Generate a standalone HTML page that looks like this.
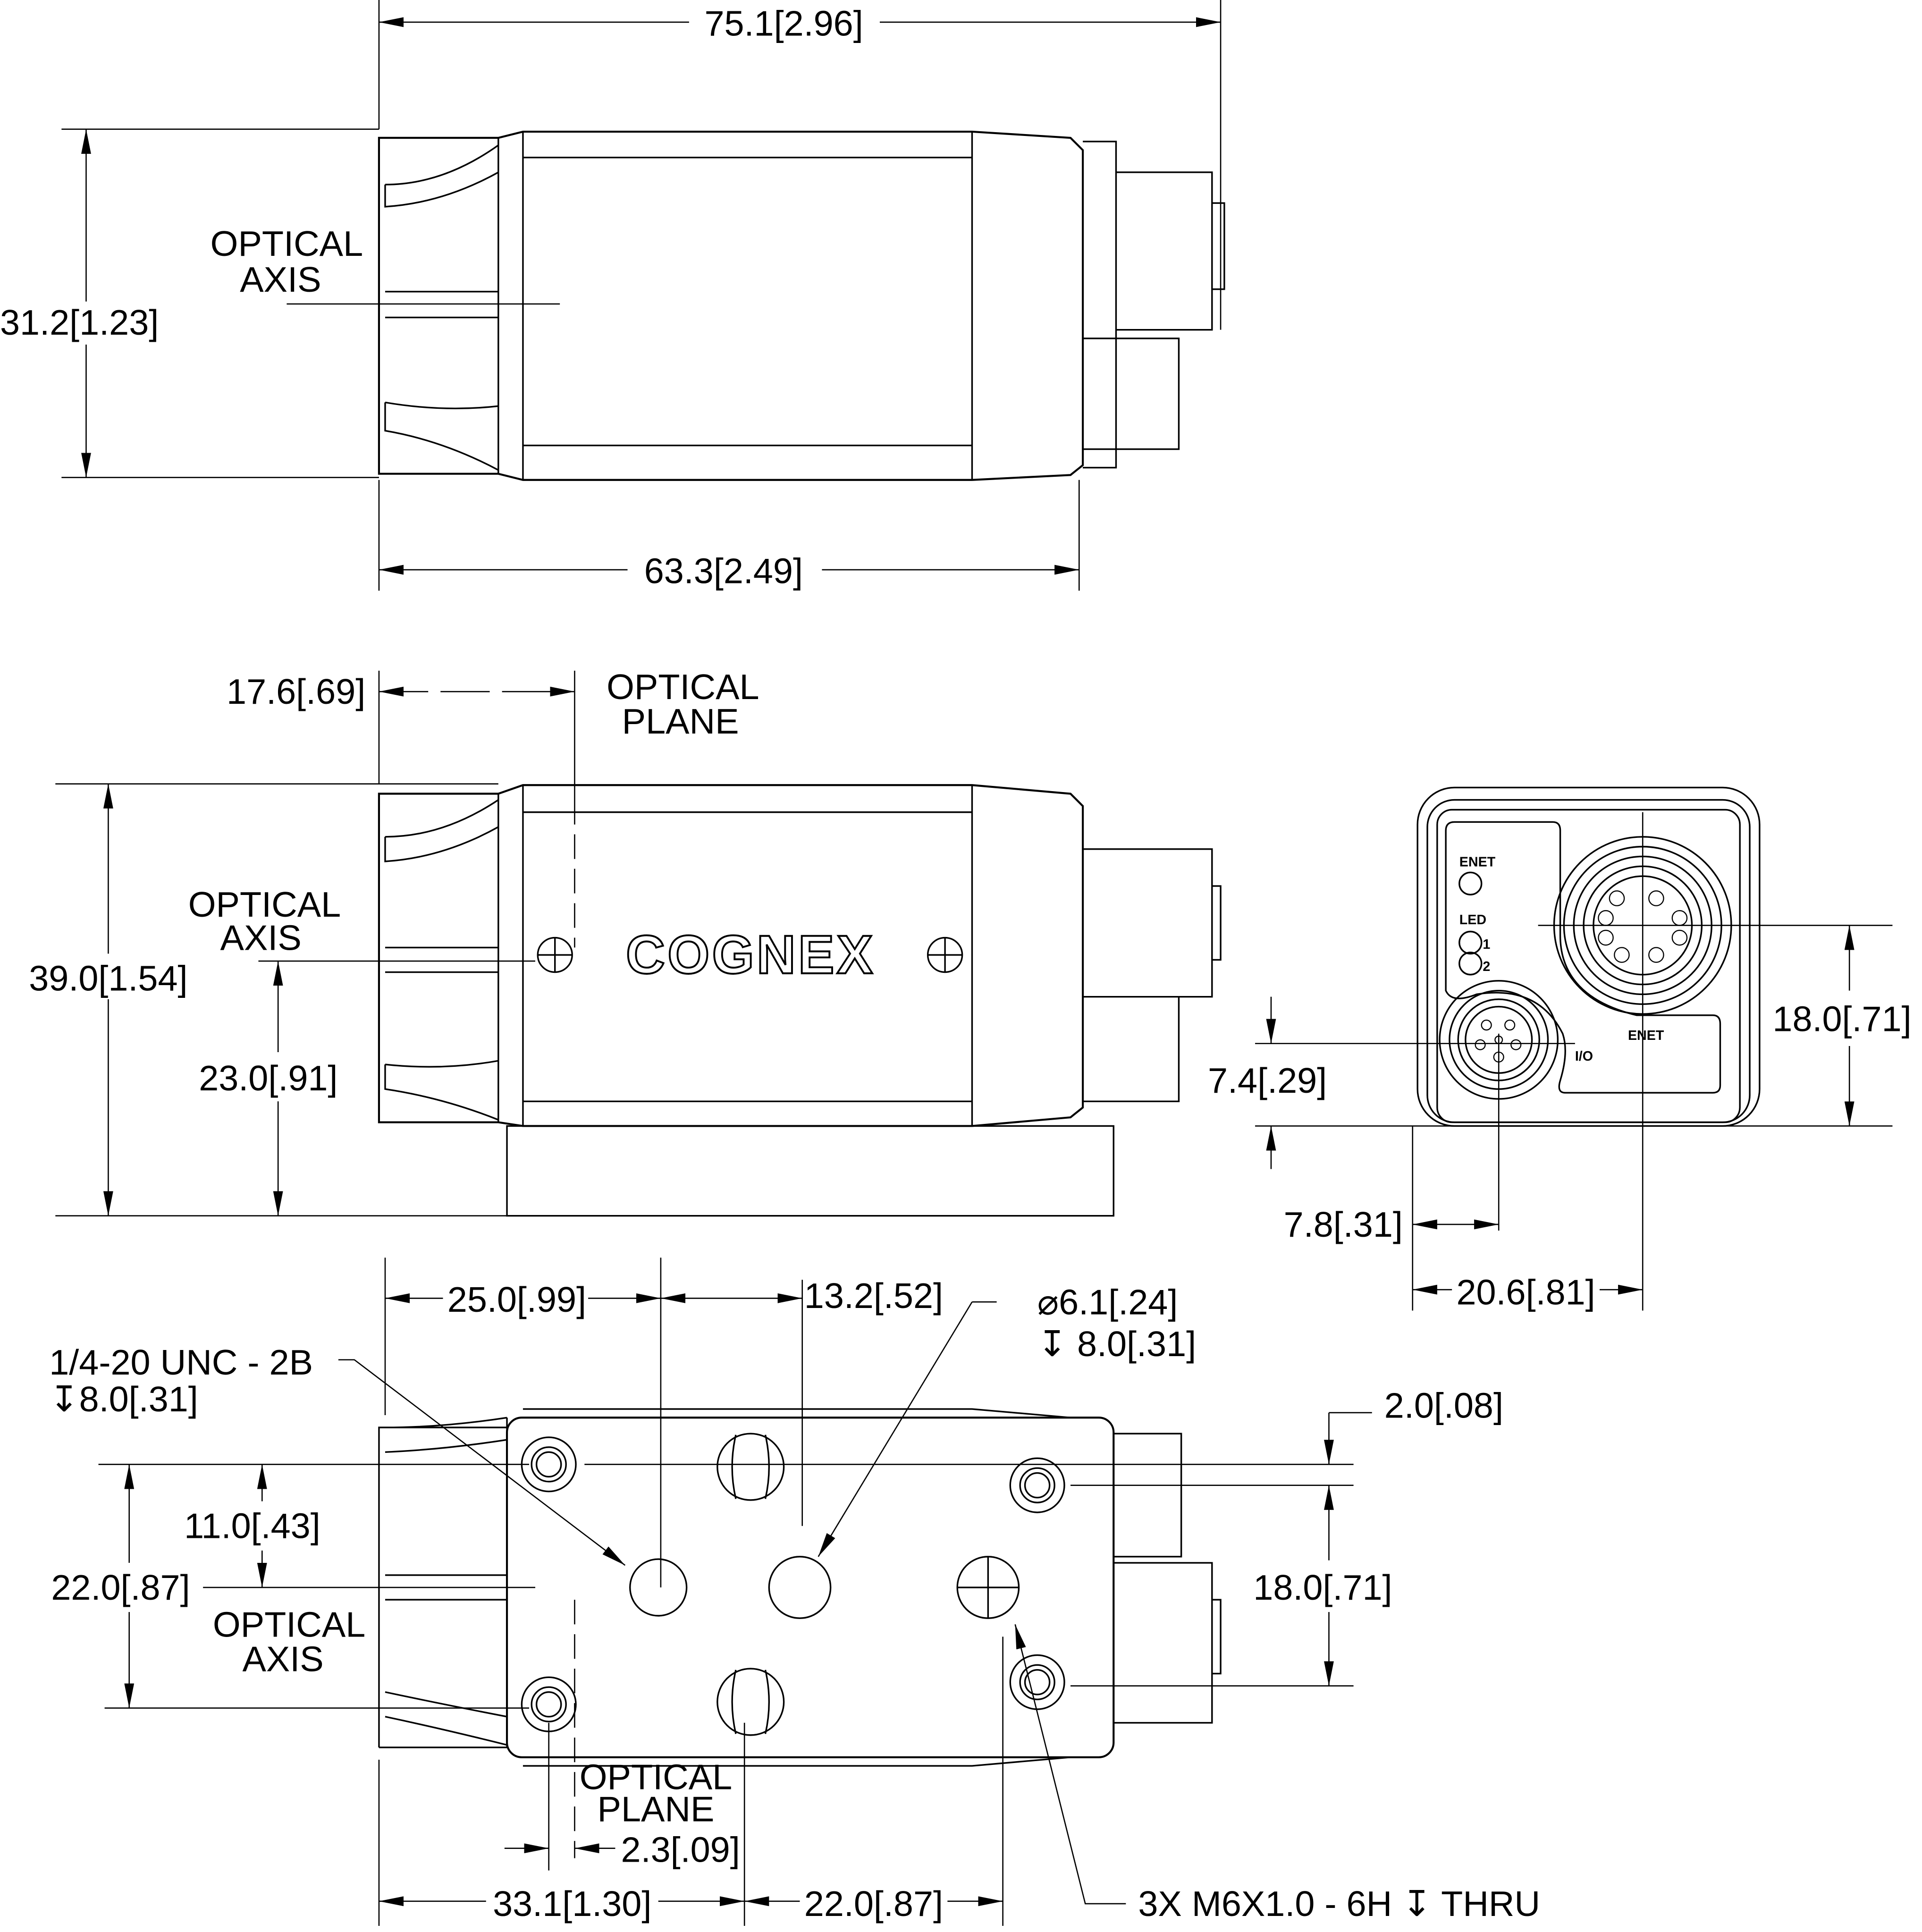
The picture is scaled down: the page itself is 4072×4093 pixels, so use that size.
<!DOCTYPE html>
<html><head><meta charset="utf-8"><style>
html,body{margin:0;padding:0;background:#fff}
svg{display:block}
text{font-family:"Liberation Sans",sans-serif;fill:#000}
</style></head><body>
<svg width="4072" height="4093" viewBox="0 0 1562 1570" preserveAspectRatio="none" xmlns="http://www.w3.org/2000/svg">
<defs>
<marker id="a" viewBox="0 0 20 8" refX="20" refY="4" markerWidth="20" markerHeight="8" markerUnits="userSpaceOnUse" orient="auto-start-reverse"><path d="M0,0 L20,4 L0,8 z" fill="#000"/></marker>
</defs>
<g fill="none" stroke="#000" stroke-width="1.3">
<path d="M308,0 V105 M992,0 V268 M50,105 H308 M50,388 H308 M308,390 V480 M877,390 V480" stroke-width="1"/>
<path d="M308,18 H560 M715,18 H992" marker-start="url(#a)" marker-end="url(#a)" stroke-width="1"/>
<path d="M70,105 V245 M70,280 V388" marker-start="url(#a)" marker-end="url(#a)" stroke-width="1"/>
<path d="M308,463 H510 M668,463 H877" marker-start="url(#a)" marker-end="url(#a)" stroke-width="1"/>
<path d="M233,247 H455" stroke-width="1"/>
<path d="M308,112 L405,112 L425,107 H790 L870,112 L880,122 V378 L870,386 L790,390 H425 L405,385 H308 Z" stroke-width="1.6"/>
<path d="M405,112 V385 M425,107 V390 M790,107 V390 M425,128 H790 M425,362 H790 M880,115 H907 V380 H880 M907,140 H985 V268 H907 M985,165 H995 V235 H985 M880,275 H958 V365 H880"/>
<path d="M313,150 Q360,150 405,118 M313,150 V168 Q360,165 405,140 M313,237 H405 M313,258 H405 M313,327 Q360,335 405,330 M313,327 V350 Q360,358 405,382"/>
<path d="M308,545 V637 M467,545 V650 M45,637 H405 M45,988 H412 M210,781 H435" stroke-width="1"/>
<path d="M467,650 V770" stroke-dasharray="20,8" stroke-width="1"/>
<path d="M308,562 H467" stroke-dasharray="40,10" marker-start="url(#a)" marker-end="url(#a)" stroke-width="1"/>
<path d="M88,637 V775 M88,812 V988" marker-start="url(#a)" marker-end="url(#a)" stroke-width="1"/>
<path d="M226,781 V855 M226,895 V988" marker-start="url(#a)" marker-end="url(#a)" stroke-width="1"/>
<path d="M308,645 L405,645 L425,638 H790 L870,645 L880,655 V900 L870,908 L790,915 H425 L405,912 H308 Z" stroke-width="1.6"/>
<path d="M405,645 V912 M425,638 V915 M790,638 V915 M425,660 H790 M425,895 H790 M412,915 H905 V988 H412 Z M880,690 H985 V810 H880 M985,720 H992 V780 H985 M880,810 H958 V895 H880"/>
<path d="M313,680 Q360,680 405,650 M313,680 V700 Q360,697 405,672 M313,770 H405 M313,790 H405 M313,865 Q360,870 405,862 M313,865 V885 Q360,892 405,910"/>
<circle cx="451" cy="776" r="14"/><path d="M437,776 H465 M451,762 V790"/>
<circle cx="768" cy="776" r="14"/><path d="M754,776 H782 M768,762 V790"/>
<rect x="1152" y="640" width="278" height="275" rx="30"/>
<rect x="1160" y="650" width="262" height="262" rx="22"/>
<rect x="1168" y="658" width="246" height="254" rx="12"/>
<path d="M1175,675 Q1175,668 1182,668 H1262 Q1268,668 1268,675 V760 Q1268,810 1330,825 H1392 Q1398,825 1398,832 V882 Q1398,888 1392,888 H1272 Q1265,888 1268,878 Q1275,855 1270,840 Q1250,800 1200,808 Q1180,816 1175,805 Z"/>
<circle cx="1335" cy="752" r="72"/><circle cx="1335" cy="752" r="64"/><circle cx="1335" cy="752" r="56"/><circle cx="1335" cy="752" r="48"/><circle cx="1335" cy="752" r="40"/>
<circle cx="1218" cy="845" r="48"/><circle cx="1218" cy="845" r="40"/><circle cx="1218" cy="845" r="33"/><circle cx="1218" cy="845" r="27"/>
<circle cx="1195" cy="718" r="9"/><circle cx="1195" cy="766" r="9"/><circle cx="1195" cy="783" r="9"/>
<g stroke-width="0.9"><circle cx="1314" cy="730" r="6"/><circle cx="1346" cy="730" r="6"/><circle cx="1305" cy="746" r="6"/><circle cx="1365" cy="746" r="6"/><circle cx="1305" cy="762" r="6"/><circle cx="1365" cy="762" r="6"/><circle cx="1318" cy="776" r="6"/><circle cx="1346" cy="776" r="6"/>
<circle cx="1208" cy="833" r="4"/><circle cx="1227" cy="833" r="4"/><circle cx="1203" cy="849" r="4"/><circle cx="1232" cy="849" r="4"/><circle cx="1218" cy="859" r="4"/><circle cx="1218" cy="845" r="3"/></g>
<path d="M1250,752 H1538 M1335,660 V1065 M1150,848 H1280 M1218,840 V1000 M1020,848 H1150 M1020,915 H1538 M1148,915 V1065" stroke-width="1"/>
<path d="M1503,752 V805 M1503,850 V915" marker-start="url(#a)" marker-end="url(#a)" stroke-width="1"/>
<path d="M1033,810 V848" marker-end="url(#a)" stroke-width="1"/><path d="M1033,950 V915" marker-end="url(#a)" stroke-width="1"/>
<path d="M1148,995 H1218" marker-start="url(#a)" marker-end="url(#a)" stroke-width="1"/>
<path d="M1148,1048 H1180 M1300,1048 H1335" marker-start="url(#a)" marker-end="url(#a)" stroke-width="1"/>
<path d="M308,1160 H412 M308,1420 H412 M313,1160 Q360,1160 412,1152 M313,1180 Q360,1178 412,1170 M313,1280 H412 M313,1300 H412 M313,1375 Q360,1385 412,1395 M313,1395 Q360,1405 412,1418 M412,1152 V1420 M412,1160 L308,1160 V1420" stroke-width="1.3"/>
<path d="M425,1145 H790 L870,1152 M425,1435 H790 L870,1428" />
<rect x="412" y="1152" width="493" height="276" rx="12" stroke-width="1.6"/>
<path d="M905,1165 H960 V1265 H905 M905,1270 H985 V1400 H905 M985,1300 H992 V1360 H985"/>
<circle cx="446" cy="1190" r="22"/><circle cx="446" cy="1190" r="14"/><circle cx="446" cy="1190" r="10"/>
<circle cx="446" cy="1385" r="22"/><circle cx="446" cy="1385" r="14"/><circle cx="446" cy="1385" r="10"/>
<circle cx="843" cy="1207" r="22"/><circle cx="843" cy="1207" r="14"/><circle cx="843" cy="1207" r="10"/>
<circle cx="843" cy="1367" r="22"/><circle cx="843" cy="1367" r="14"/><circle cx="843" cy="1367" r="10"/>
<circle cx="610" cy="1192" r="27"/><path d="M598,1166 Q592,1192 598,1218 M622,1166 Q628,1192 622,1218"/>
<circle cx="610" cy="1383" r="27"/><path d="M598,1357 Q592,1383 598,1409 M622,1357 Q628,1383 622,1409"/>
<circle cx="535" cy="1290" r="23"/>
<circle cx="803" cy="1290" r="25"/><path d="M778,1290 H828 M803,1265 V1315"/>
<circle cx="650" cy="1290" r="25"/>
<path d="M313,1022 V1150 M537,1022 V1290 M652,1040 V1240 M80,1190 H430 M475,1190 H1100 M870,1207 H1100 M870,1370 H1100 M85,1388 H430 M165,1290 H435 M446,1400 V1520 M605,1400 V1565 M815,1330 V1565 M308,1430 V1565" stroke-width="1"/>
<path d="M467,1300 V1510" stroke-dasharray="20,8" stroke-width="1"/>
<path d="M313,1055 H360 M478,1055 H537" marker-start="url(#a)" marker-end="url(#a)" stroke-width="1"/>
<path d="M537,1055 H652" marker-start="url(#a)" marker-end="url(#a)" stroke-width="1"/>
<path d="M790,1058 H810 M790,1058 L665,1265" marker-end="url(#a)" stroke-width="1"/>
<path d="M275,1105 H288 L508,1272" marker-end="url(#a)" stroke-width="1"/>
<path d="M1080,1148 H1115 M1080,1148 V1190" marker-end="url(#a)" stroke-width="1"/>
<path d="M1080,1207 V1268 M1080,1310 V1370" marker-start="url(#a)" marker-end="url(#a)" stroke-width="1"/>
<path d="M213,1190 V1220 M213,1260 V1290" marker-start="url(#a)" marker-end="url(#a)" stroke-width="1"/>
<path d="M105,1190 V1270 M105,1310 V1388" marker-start="url(#a)" marker-end="url(#a)" stroke-width="1"/>
<path d="M410,1502 H446" marker-end="url(#a)" stroke-width="1"/><path d="M500,1502 H467" marker-end="url(#a)" stroke-width="1"/>
<path d="M308,1545 H395 M535,1545 H605" marker-start="url(#a)" marker-end="url(#a)" stroke-width="1"/>
<path d="M605,1545 H650 M770,1545 H815" marker-start="url(#a)" marker-end="url(#a)" stroke-width="1"/>
<path d="M915,1547 H882 L825,1320" marker-end="url(#a)" stroke-width="1"/>
</g>
<g font-size="29">
<text x="637" y="29" text-anchor="middle">75.1[2.96]</text>
<text x="0" y="272">31.2[1.23]</text>
<text x="233" y="208" text-anchor="middle">OPTICAL</text>
<text x="228" y="237" text-anchor="middle">AXIS</text>
<text x="588" y="474" text-anchor="middle">63.3[2.49]</text>
<text x="297" y="572" text-anchor="end">17.6[.69]</text>
<text x="555" y="568" text-anchor="middle">OPTICAL</text>
<text x="553" y="596" text-anchor="middle">PLANE</text>
<text x="215" y="745" text-anchor="middle">OPTICAL</text>
<text x="212" y="772" text-anchor="middle">AXIS</text>
<text x="88" y="805" text-anchor="middle">39.0[1.54]</text>
<text x="218" y="886" text-anchor="middle">23.0[.91]</text>
<text x="1497" y="838" text-anchor="middle">18.0[.71]</text>
<text x="1030" y="888" text-anchor="middle">7.4[.29]</text>
<text x="1140" y="1005" text-anchor="end">7.8[.31]</text>
<text x="1240" y="1060" text-anchor="middle">20.6[.81]</text>
<text x="420" y="1066" text-anchor="middle">25.0[.99]</text>
<text x="710" y="1063" text-anchor="middle">13.2[.52]</text>
<text x="843" y="1068">⌀6.1[.24]</text>
<text x="843" y="1102">↧ 8.0[.31]</text>
<text x="40" y="1117">1/4-20 UNC - 2B</text>
<text x="40" y="1147">↧8.0[.31]</text>
<text x="1125" y="1152">2.0[.08]</text>
<text x="205" y="1250" text-anchor="middle">11.0[.43]</text>
<text x="98" y="1300" text-anchor="middle">22.0[.87]</text>
<text x="1075" y="1300" text-anchor="middle">18.0[.71]</text>
<text x="235" y="1330" text-anchor="middle">OPTICAL</text>
<text x="230" y="1358" text-anchor="middle">AXIS</text>
<text x="533" y="1454" text-anchor="middle">OPTICAL</text>
<text x="533" y="1480" text-anchor="middle">PLANE</text>
<text x="553" y="1513" text-anchor="middle">2.3[.09]</text>
<text x="465" y="1557" text-anchor="middle">33.1[1.30]</text>
<text x="710" y="1557" text-anchor="middle">22.0[.87]</text>
<text x="925" y="1557">3X M6X1.0 - 6H ↧ THRU</text>
</g>
<text x="610" y="791" text-anchor="middle" font-size="44" font-weight="bold" style="fill:#fff;stroke:#000;stroke-width:1.5" letter-spacing="2">COGNEX</text>
<g font-size="11" font-weight="bold">
<text x="1186" y="704">ENET</text><text x="1186" y="751">LED</text><text x="1205" y="771">1</text><text x="1205" y="789">2</text>
<text x="1323" y="845">ENET</text><text x="1280" y="862">I/O</text>
</g>
</svg>
</body></html>
